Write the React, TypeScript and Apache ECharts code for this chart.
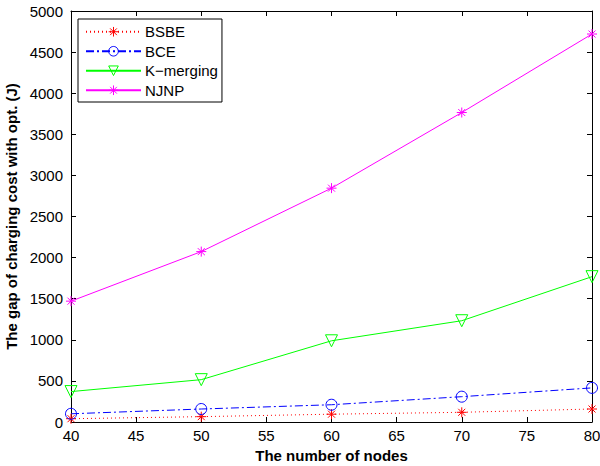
import React, { useEffect, useRef } from "react";
import * as echarts from "echarts";

const nodes = [40, 50, 60, 70, 80];
const bsbe = [40, 65, 95, 118, 158];
const bce = [100, 158, 210, 308, 415];
const kmerging = [370, 515, 988, 1232, 1768];
const njnp = [1470, 2073, 2845, 3765, 4720];

const xTicks = { min: 40, max: 80, interval: 5 };
const yTicks = { min: 0, max: 5000, interval: 500 };

const asterisk =
  "path://M0,-10L0,10M-10,0L10,0M-7,-7L7,7M-7,7L7,-7";

const font = "Liberation Sans, Arial, Helvetica, sans-serif";

function pair(xs: number[], ys: number[]) {
  return xs.map((x, i) => [x, ys[i]]);
}

export default function App() {
  const ref = useRef<HTMLDivElement>(null);
  useEffect(() => {
    if (!ref.current) return;
    const chart = echarts.init(ref.current, undefined, { renderer: "svg" });
    const mk = (
      name: string,
      ys: number[],
      color: string,
      symbol: string,
      size: number,
      lineType: any,
      rotate = 0
    ) => ({
      name,
      type: "line",
      data: pair(nodes, ys),
      symbol,
      symbolSize: size,
      symbolRotate: rotate,
      showAllSymbol: true,
      lineStyle: { color, width: 1, type: lineType },
      itemStyle: { color: "rgba(0,0,0,0)", borderColor: color, borderWidth: 1 },
      emphasis: { disabled: true },
    });
    const tickStyle = { lineStyle: { color: "#000" } };
    chart.setOption({
      animation: false,
      backgroundColor: "#fff",
      textStyle: { fontFamily: font },
      grid: {
        left: 71,
        right: 8,
        top: 11,
        bottom: 44,
        containLabel: false,
        outerBoundsMode: "none",
      },
      legend: {
        orient: "vertical",
        left: 78,
        top: 19,
        backgroundColor: "#fff",
        borderColor: "#000",
        borderWidth: 1,
        borderRadius: 0,
        padding: [4, 4, 3, 7],
        itemWidth: 55,
        itemHeight: 12,
        itemGap: 2,
        itemStyle: { color: "rgba(0,0,0,0)", borderWidth: 1 },
        textStyle: {
          fontSize: 15,
          color: "#000",
          fontFamily: font,
          lineHeight: 17.5,
          padding: [0, 0, 0, -1],
        },
        data: ["BSBE", "BCE", "K\u2212merging", "NJNP"],
      },
      xAxis: [
        {
          type: "value",
          ...xTicks,
          name: "The number of nodes",
          nameLocation: "middle",
          nameGap: 23,
          nameTextStyle: { fontWeight: "bold", fontSize: 15, color: "#000" },
          axisLine: { show: true, onZero: false, lineStyle: { color: "#000" } },
          axisTick: { inside: true, length: 5, ...tickStyle },
          axisLabel: { fontSize: 15, color: "#000", margin: 6 },
          splitLine: { show: false },
        },
        {
          type: "value",
          ...xTicks,
          position: "top",
          axisLine: { show: true, onZero: false, lineStyle: { color: "#000" } },
          axisTick: { inside: true, length: 5, ...tickStyle },
          axisLabel: { show: false },
          splitLine: { show: false },
        },
      ],
      yAxis: [
        {
          type: "value",
          ...yTicks,
          name: "The gap of charging cost with opt. (J)",
          nameLocation: "middle",
          nameGap: 48,
          nameTextStyle: { fontWeight: "bold", fontSize: 15, color: "#000" },
          axisLine: { show: true, onZero: false, lineStyle: { color: "#000" } },
          axisTick: { inside: true, length: 5, ...tickStyle },
          axisLabel: {
            fontSize: 15,
            color: "#000",
            margin: 8,
            formatter: (v: number) => String(v),
          },
          splitLine: { show: false },
        },
        {
          type: "value",
          ...yTicks,
          position: "right",
          axisLine: { show: true, onZero: false, lineStyle: { color: "#000" } },
          axisTick: { inside: true, length: 5, ...tickStyle },
          axisLabel: { show: false },
          splitLine: { show: false },
        },
      ],
      series: [
        mk("BSBE", bsbe, "#ff0000", asterisk, 10, [1, 3]),
        mk("BCE", bce, "#0000ff", "circle", 11, [8, 3, 2, 3]),
        mk("K\u2212merging", kmerging, "#00ff00", "triangle", 12, "solid", 180),
        mk("NJNP", njnp, "#ff00ff", asterisk, 10, "solid"),
      ],
    });
    return () => chart.dispose();
  }, []);
  return (
    <div
      ref={ref}
      style={{ width: 600, height: 466, position: "absolute", left: 0, top: 0 }}
    />
  );
}
